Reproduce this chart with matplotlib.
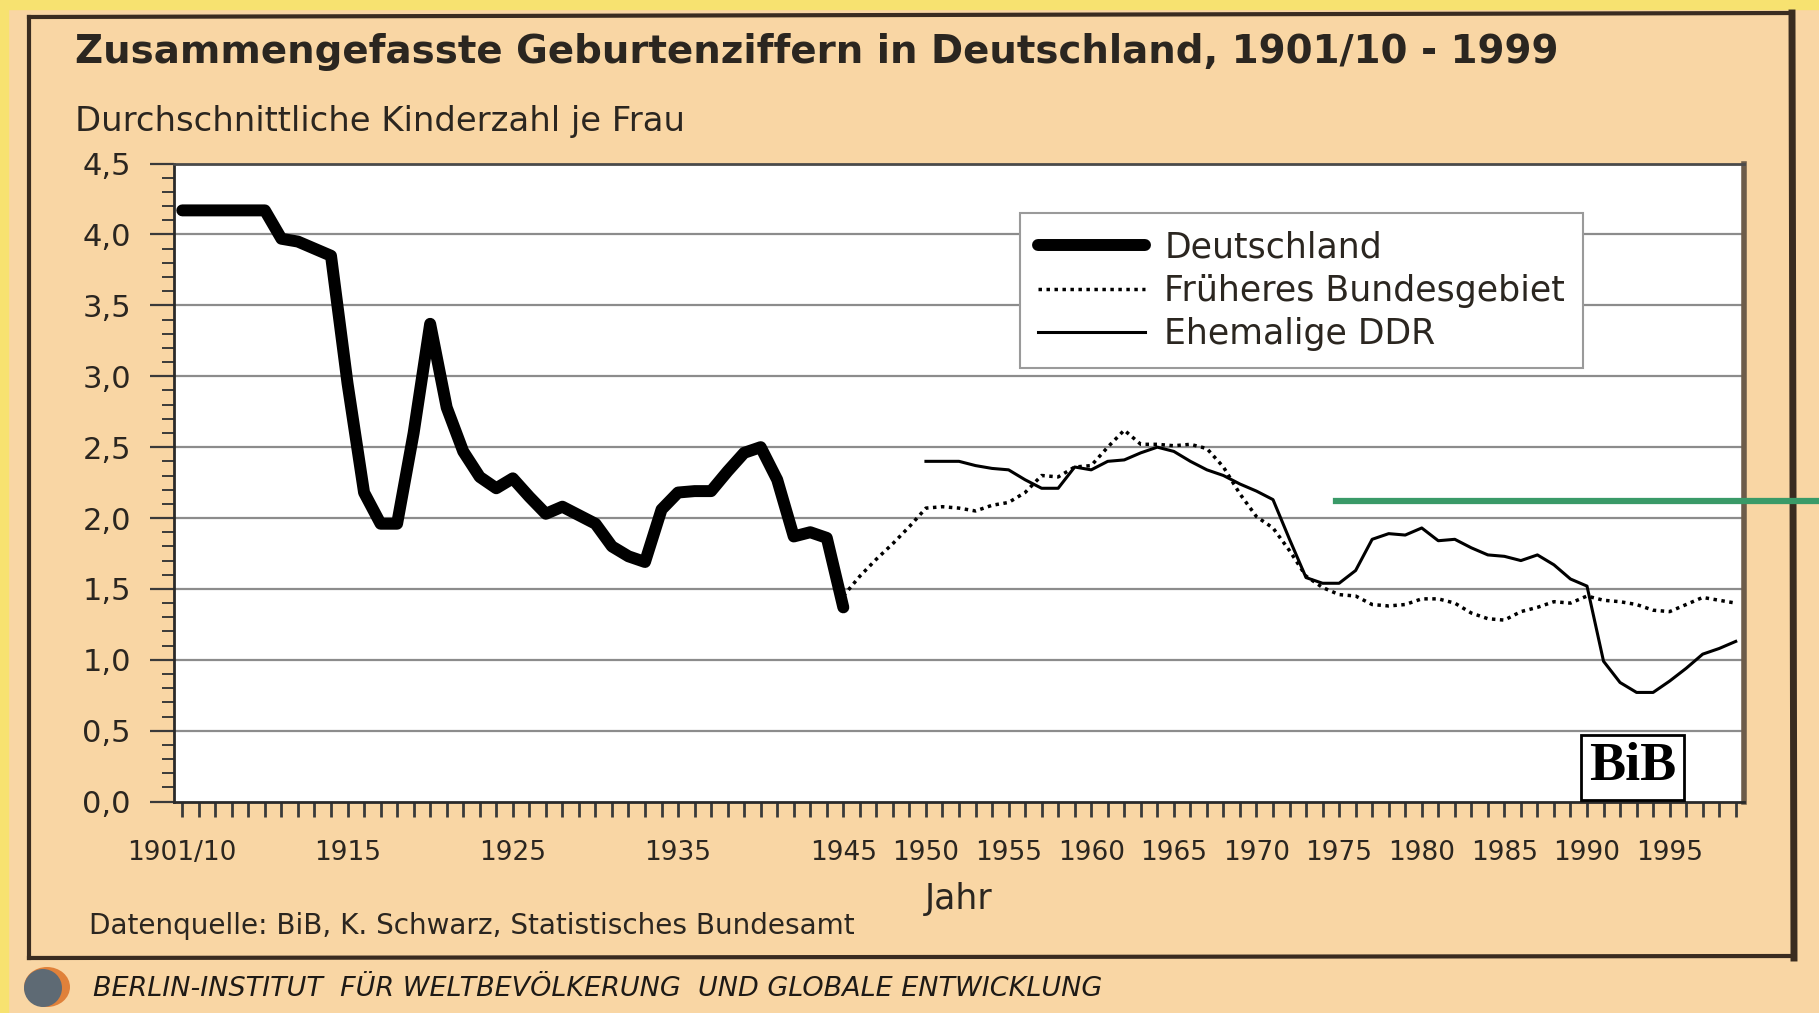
import matplotlib
matplotlib.use("Agg")
import matplotlib.pyplot as plt
from matplotlib.lines import Line2D
from matplotlib.patches import Ellipse
from matplotlib.ticker import FixedLocator, MultipleLocator

# Daten
de_years = [1905, 1910, 1911, 1912, 1913, 1914, 1915, 1916, 1917, 1918, 1919,
            1920, 1921, 1922, 1923, 1924, 1925, 1926, 1927, 1928, 1929,
            1930, 1931, 1932, 1933, 1934, 1935, 1936, 1937, 1938, 1939,
            1940, 1941, 1942, 1943, 1944, 1945]
de_values = [4.17, 4.17, 3.97, 3.95, 3.90, 3.85, 2.95, 2.18, 1.96, 1.96, 2.60,
             3.37, 2.78, 2.47, 2.29, 2.21, 2.28, 2.15, 2.03, 2.08, 2.02,
             1.96, 1.80, 1.73, 1.69, 2.06, 2.18, 2.19, 2.19, 2.33, 2.46,
             2.50, 2.27, 1.87, 1.90, 1.86, 1.37]

bg_years = list(range(1945, 2000))
bg_values = [1.45, 1.59, 1.71, 1.82, 1.94, 2.07, 2.08, 2.07, 2.05, 2.09,
             2.11, 2.18, 2.30, 2.29, 2.36, 2.37, 2.50, 2.62, 2.52, 2.52,
             2.51, 2.52, 2.49, 2.36, 2.17, 2.01, 1.93, 1.77, 1.59, 1.51,
             1.46, 1.45, 1.39, 1.38, 1.39, 1.43, 1.43, 1.40, 1.33, 1.29,
             1.28, 1.34, 1.37, 1.41, 1.40, 1.45, 1.42, 1.41, 1.39, 1.35,
             1.34, 1.39, 1.44, 1.42, 1.40]

ddr_years = list(range(1950, 2000))
ddr_values = [2.40, 2.40, 2.40, 2.37, 2.35, 2.34, 2.27, 2.21, 2.21, 2.36,
              2.34, 2.40, 2.41, 2.46, 2.50, 2.47, 2.40, 2.34, 2.30, 2.24,
              2.19, 2.13, 1.85, 1.58, 1.54, 1.54, 1.63, 1.85, 1.89, 1.88,
              1.93, 1.84, 1.85, 1.79, 1.74, 1.73, 1.70, 1.74, 1.67, 1.57,
              1.52, 0.99, 0.84, 0.77, 0.77, 0.85, 0.94, 1.04, 1.08, 1.13]

xtick_pos = [1905, 1915, 1925, 1935, 1945, 1950, 1955, 1960, 1965, 1970,
             1975, 1980, 1985, 1990, 1995]
xtick_labels = ["1901/10", "1915", "1925", "1935", "1945", "1950", "1955",
                "1960", "1965", "1970", "1975", "1980", "1985", "1990", "1995"]
ytick_pos = [0.0, 0.5, 1.0, 1.5, 2.0, 2.5, 3.0, 3.5, 4.0, 4.5]
ytick_labels = ["0,0", "0,5", "1,0", "1,5", "2,0", "2,5", "3,0", "3,5", "4,0", "4,5"]

W, H = 1819, 1013
PEACH = "#f9d6a4"
INK = "#2b2620"


def fx(px):
    return px / W


def fy(py):
    return 1 - py / H


fig = plt.figure(figsize=(W / 100, H / 100), dpi=100, facecolor=PEACH)

# gelber Rand oben / links
fig.add_artist(plt.Rectangle((0, fy(9)), 1, 9 / H, transform=fig.transFigure,
                             color="#f7e270", zorder=0))
fig.add_artist(plt.Rectangle((0, 0), 8 / W, 1, transform=fig.transFigure,
                             color="#f7e270", zorder=0))

# handgezeichneter Rahmen (vereinfacht)
frame_kw = dict(transform=fig.transFigure, color="#3a2c20", lw=3, zorder=1)
fig.add_artist(Line2D([fx(29), fx(1792)], [fy(17), fy(13)], **frame_kw))
fig.add_artist(Line2D([fx(29), fx(29)], [fy(17), fy(958)], **frame_kw))
fig.add_artist(Line2D([fx(1792), fx(1794)], [fy(13), fy(958)], lw=5,
                      transform=fig.transFigure, color="#3a2c20", zorder=1))
fig.add_artist(Line2D([fx(29), fx(1794)], [fy(958), fy(956)], **frame_kw))

ax = fig.add_axes([fx(174), fy(801.6), (1744 - 174) / W, (801.6 - 163.6) / H])
ax.set_facecolor("white")

for y in ytick_pos[1:-1]:
    ax.axhline(y, color="#8c8c8c", lw=1.6, zorder=1)

ax.plot(de_years, de_values, color="black", lw=8.6, solid_joinstyle="round",
        solid_capstyle="round", zorder=4, label="Deutschland")
ax.plot(bg_years, bg_values, color="black", lw=2.5, linestyle=(0, (1, 1.3)),
        zorder=3, label="Früheres Bundesgebiet")
ax.plot(ddr_years, ddr_values, color="black", lw=2.2, zorder=3,
        label="Ehemalige DDR")

ax.set_xlim(1904.5, 1999.5)
ax.set_ylim(0, 4.5)

ax.xaxis.set_major_locator(FixedLocator(xtick_pos))
ax.xaxis.set_minor_locator(MultipleLocator(1))
ax.set_xticklabels(xtick_labels)
ax.yaxis.set_major_locator(FixedLocator(ytick_pos))
ax.yaxis.set_minor_locator(MultipleLocator(0.1))
ax.set_yticklabels(ytick_labels)

ax.tick_params(axis="x", which="both", direction="out", length=11, width=2,
               color="#3a3a3a", pad=17, labelsize=19, labelcolor=INK)
ax.tick_params(axis="y", which="major", direction="out", length=17, width=1.6,
               color="#3a3a3a", pad=14, labelsize=22, labelcolor=INK)
ax.tick_params(axis="y", which="minor", direction="out", length=9, width=1.4,
               color="#3a3a3a")

for s in ["left", "bottom"]:
    ax.spines[s].set_color("#2a2a2a")
    ax.spines[s].set_linewidth(2)
ax.spines["top"].set_color("#4a4a4a")
ax.spines["top"].set_linewidth(2)
ax.spines["right"].set_color("#6d5c4a")
ax.spines["right"].set_linewidth(4)

leg = ax.legend(loc="upper left", bbox_to_anchor=(0.539, 0.9226),
                borderaxespad=0, fontsize=25, handlelength=3.1,
                handletextpad=0.55, labelspacing=0.27, borderpad=0.5,
                fancybox=False, framealpha=1, edgecolor="#9a9a9a")
leg.get_frame().set_linewidth(1.5)
for t in leg.get_texts():
    t.set_color(INK)

ax.text(0.929, 0.054, "BiB", transform=ax.transAxes, ha="center", va="center",
        fontsize=39, fontweight="bold", family="Liberation Serif", color="black",
        zorder=6, bbox=dict(boxstyle="square,pad=0.14", facecolor="white",
                            edgecolor="black", lw=2))

r = fig.canvas.get_renderer()


def fit(t, width_px):
    w = t.get_window_extent(r).width
    t.set_fontsize(t.get_fontsize() * width_px / w)


t1 = fig.text(fx(75), fy(63), "Zusammengefasste Geburtenziffern in Deutschland, 1901/10 - 1999",
              fontsize=24, fontweight="bold", color=INK, va="baseline")
fit(t1, 1487)
t2 = fig.text(fx(75), fy(131), "Durchschnittliche Kinderzahl je Frau",
              fontsize=18, color=INK, va="baseline")
fit(t2, 613)
t3 = fig.text(fx(959), fy(909), "Jahr", fontsize=25, color=INK,
              ha="center", va="baseline")
t4 = fig.text(fx(89), fy(934), "Datenquelle: BiB, K. Schwarz, Statistisches Bundesamt",
              fontsize=16, color=INK, va="baseline")
fit(t4, 767)
t5 = fig.text(fx(93), fy(996), "BERLIN-INSTITUT  FÜR WELTBEVÖLKERUNG  UND GLOBALE ENTWICKLUNG",
              fontsize=14, color="#1e1a16", va="baseline", style="italic")
fit(t5, 1015)

# Logo
fig.add_artist(Ellipse((fx(47), fy(987)), 46 / W, 40 / H, transform=fig.transFigure,
                       facecolor="#e0813a", edgecolor="none", zorder=2))
fig.add_artist(Ellipse((fx(43), fy(988)), 38 / W, 38 / H, transform=fig.transFigure,
                       facecolor="#5e6a74", edgecolor="none", zorder=3))

# gruene Markierungslinie
fig.add_artist(Line2D([fx(1336), fx(1819)], [fy(501), fy(501)], transform=fig.transFigure,
                      color="#3a9a68", lw=4.5, zorder=10))

fig.savefig("out.png", dpi=100, facecolor=PEACH)
